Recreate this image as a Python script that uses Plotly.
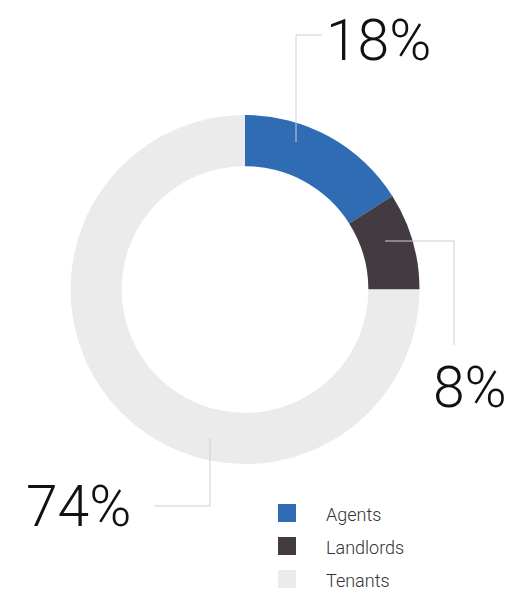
import plotly.graph_objects as go

categories = ["Agents", "Landlords", "Tenants"]
slice_values = [16, 9, 75]          # arc sizes as drawn in the picture
label_texts = ["18%", "8%", "74%"]  # labels printed on the chart
colors = ["#2f6cb4", "#433a42", "#ebebeb"]

W, H = 512, 590
OFF = 8  # page body margin
def px(x):
    return (x - OFF) / W
def py(y):
    return 1 - (y - OFF) / H

fig = go.Figure()
cx, cy, R = 245, 289.5, 174.5
fig.add_trace(go.Pie(
    labels=categories, values=slice_values, hole=0.707,
    sort=False, direction="clockwise", rotation=0,
    marker=dict(colors=colors, line=dict(width=0)),
    textinfo="none", hoverinfo="label+percent", showlegend=False,
    domain=dict(x=[px(cx - R), px(cx + R)], y=[py(cy + R), py(cy - R)]),
))

line_style = dict(color="#cfcfcf", width=1)
leaders = [
    [(296, 142), (296, 35), (322, 35)],
    [(385, 241), (454, 241), (454, 345)],
    [(210, 438), (210, 506), (154, 506)],
]
for pts in leaders:
    for (x0, y0), (x1, y1) in zip(pts[:-1], pts[1:]):
        fig.add_shape(type="line", xref="paper", yref="paper",
                      x0=px(x0), y0=py(y0), x1=px(x1), y1=py(y1), line=line_style)

big_font = dict(family="Roboto", size=57, color="#111111", weight=300)
label_pos = [(378, 40), (470, 388), (78, 506)]
for txt, (x, y) in zip(label_texts, label_pos):
    fig.add_annotation(text=txt, x=px(x), y=py(y), xref="paper", yref="paper",
                       showarrow=False, xanchor="center", yanchor="middle", font=big_font)

# legend
for i, (cat, col) in enumerate(zip(categories, colors)):
    y0 = 504 + i * 33
    fig.add_shape(type="rect", xref="paper", yref="paper",
                  x0=px(278), x1=px(296), y0=py(y0), y1=py(y0 + 18),
                  fillcolor=col, line=dict(width=0))
    fig.add_annotation(text=cat, x=px(324), y=py(y0 + 10), xref="paper", yref="paper",
                       showarrow=False, xanchor="left", yanchor="middle",
                       font=dict(family="Roboto", size=18, color="#333333", weight=300))

fig.update_layout(width=W, height=H, margin=dict(l=0, r=0, t=0, b=0),
                  paper_bgcolor="white", plot_bgcolor="white")
fig.write_html("out.html")
